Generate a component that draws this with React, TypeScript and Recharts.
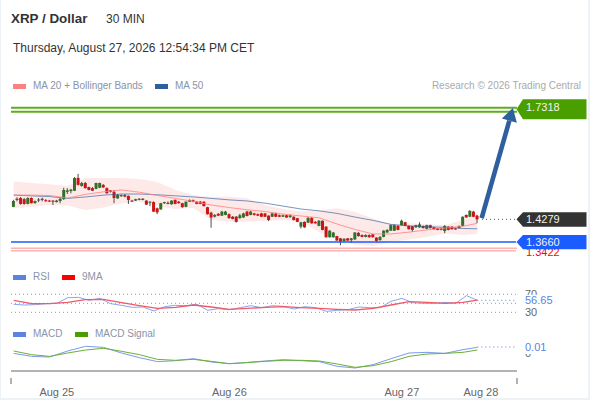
import { Area, Bar, ComposedChart, Line, ReferenceLine, XAxis, YAxis } from 'recharts'

const FONT = '"Liberation Sans", Arial, sans-serif'

// price candles, 30 min bars
const opens = [
  1.462, 1.484, 1.486, 1.483, 1.470, 1.486, 1.472, 1.480, 1.484, 1.480,
  1.479, 1.479, 1.475, 1.478, 1.483, 1.503, 1.505, 1.506, 1.541, 1.519,
  1.527, 1.516, 1.513, 1.511, 1.514, 1.522, 1.513, 1.507, 1.503, 1.485,
  1.491, 1.494, 1.492, 1.479, 1.479, 1.481, 1.484, 1.479, 1.474, 1.475,
  1.458, 1.455, 1.472, 1.473, 1.469, 1.481, 1.476, 1.472, 1.462, 1.476,
  1.480, 1.476, 1.476, 1.476, 1.461, 1.446, 1.435, 1.443, 1.438, 1.440,
  1.442, 1.435, 1.435, 1.431, 1.433, 1.449, 1.440, 1.444, 1.442, 1.444,
  1.444, 1.438, 1.435, 1.444, 1.439, 1.435, 1.439, 1.434, 1.435, 1.431,
  1.408, 1.421, 1.419, 1.432, 1.421, 1.410, 1.424, 1.408, 1.379, 1.379,
  1.382, 1.376, 1.368, 1.376, 1.371, 1.373, 1.391, 1.385, 1.380, 1.385,
  1.387, 1.378, 1.371, 1.380, 1.392, 1.397, 1.397, 1.410, 1.412, 1.420,
  1.410, 1.409, 1.406, 1.406, 1.410, 1.402, 1.412, 1.406, 1.403, 1.399,
  1.396, 1.408, 1.408, 1.403, 1.404, 1.410, 1.440, 1.435, 1.449, 1.438,
]
const closes = [
  1.478, 1.481, 1.470, 1.470, 1.486, 1.472, 1.478, 1.482, 1.481, 1.478,
  1.478, 1.476, 1.479, 1.484, 1.508, 1.507, 1.509, 1.541, 1.522, 1.527,
  1.513, 1.508, 1.506, 1.527, 1.527, 1.515, 1.499, 1.503, 1.486, 1.495,
  1.494, 1.490, 1.481, 1.478, 1.483, 1.484, 1.481, 1.468, 1.476, 1.449,
  1.447, 1.472, 1.475, 1.470, 1.479, 1.470, 1.472, 1.461, 1.476, 1.481,
  1.476, 1.470, 1.470, 1.464, 1.442, 1.433, 1.440, 1.438, 1.449, 1.449,
  1.431, 1.429, 1.421, 1.439, 1.444, 1.437, 1.449, 1.440, 1.438, 1.435,
  1.435, 1.426, 1.444, 1.435, 1.435, 1.439, 1.433, 1.439, 1.426, 1.421,
  1.420, 1.406, 1.432, 1.417, 1.417, 1.424, 1.399, 1.379, 1.397, 1.392,
  1.370, 1.367, 1.375, 1.370, 1.376, 1.392, 1.382, 1.380, 1.385, 1.379,
  1.379, 1.369, 1.380, 1.397, 1.399, 1.412, 1.412, 1.399, 1.424, 1.410,
  1.401, 1.399, 1.412, 1.414, 1.404, 1.412, 1.404, 1.401, 1.399, 1.403,
  1.410, 1.399, 1.401, 1.401, 1.410, 1.435, 1.433, 1.451, 1.435, 1.4279,
]
const highs = [
  1.481, 1.488, 1.489, 1.486, 1.488, 1.488, 1.479, 1.486, 1.487, 1.483,
  1.481, 1.480, 1.481, 1.487, 1.514, 1.513, 1.511, 1.543, 1.552, 1.530,
  1.530, 1.517, 1.516, 1.528, 1.528, 1.524, 1.515, 1.508, 1.508, 1.497,
  1.496, 1.497, 1.493, 1.481, 1.484, 1.486, 1.486, 1.480, 1.477, 1.477,
  1.460, 1.473, 1.476, 1.477, 1.480, 1.482, 1.478, 1.473, 1.477, 1.482,
  1.482, 1.477, 1.478, 1.477, 1.462, 1.449, 1.442, 1.445, 1.451, 1.451,
  1.444, 1.437, 1.437, 1.443, 1.446, 1.451, 1.451, 1.446, 1.444, 1.446,
  1.445, 1.439, 1.446, 1.446, 1.441, 1.441, 1.441, 1.441, 1.436, 1.432,
  1.421, 1.422, 1.434, 1.434, 1.423, 1.426, 1.425, 1.409, 1.398, 1.393,
  1.383, 1.377, 1.376, 1.377, 1.377, 1.393, 1.393, 1.387, 1.387, 1.387,
  1.388, 1.379, 1.382, 1.398, 1.401, 1.414, 1.414, 1.412, 1.427, 1.421,
  1.411, 1.410, 1.413, 1.420, 1.411, 1.413, 1.413, 1.407, 1.404, 1.405,
  1.412, 1.409, 1.409, 1.405, 1.411, 1.436, 1.441, 1.453, 1.451, 1.440,
]
const lows = [
  1.461, 1.477, 1.468, 1.468, 1.469, 1.471, 1.471, 1.475, 1.477, 1.476,
  1.476, 1.467, 1.474, 1.472, 1.481, 1.497, 1.499, 1.505, 1.520, 1.517,
  1.512, 1.507, 1.505, 1.510, 1.513, 1.514, 1.498, 1.501, 1.472, 1.484,
  1.489, 1.488, 1.470, 1.476, 1.478, 1.480, 1.480, 1.467, 1.464, 1.448,
  1.442, 1.454, 1.470, 1.469, 1.468, 1.469, 1.471, 1.460, 1.461, 1.475,
  1.475, 1.469, 1.469, 1.463, 1.441, 1.405, 1.433, 1.437, 1.437, 1.439,
  1.430, 1.428, 1.419, 1.430, 1.432, 1.436, 1.439, 1.438, 1.437, 1.434,
  1.434, 1.423, 1.434, 1.434, 1.434, 1.434, 1.432, 1.432, 1.425, 1.420,
  1.403, 1.405, 1.418, 1.416, 1.416, 1.409, 1.398, 1.378, 1.378, 1.378,
  1.369, 1.357, 1.367, 1.369, 1.364, 1.372, 1.381, 1.379, 1.379, 1.378,
  1.378, 1.365, 1.370, 1.379, 1.391, 1.396, 1.396, 1.398, 1.411, 1.409,
  1.400, 1.394, 1.405, 1.405, 1.403, 1.401, 1.403, 1.400, 1.398, 1.398,
  1.390, 1.398, 1.400, 1.400, 1.403, 1.409, 1.432, 1.434, 1.434, 1.418,
]

const sampleBars = [0, 5, 10, 15, 20, 25, 30, 35, 40, 45, 50, 55, 60, 65, 70, 75, 80, 85, 90, 95, 100, 105, 110, 115, 120, 125, 129]
const ma50 = [1.494, 1.492, 1.490, 1.485, 1.489, 1.494, 1.497, 1.497, 1.495, 1.492, 1.489, 1.485, 1.481, 1.478, 1.472, 1.464, 1.456, 1.451, 1.444, 1.434, 1.425, 1.414, 1.410, 1.408, 1.406, 1.403, 1.402]
const ma20 = [1.494, 1.494, 1.493, 1.486, 1.496, 1.503, 1.508, 1.502, 1.493, 1.485, 1.477, 1.467, 1.460, 1.454, 1.449, 1.442, 1.437, 1.432, 1.415, 1.400, 1.388, 1.388, 1.393, 1.399, 1.404, 1.409, 1.417]
const bandUpper = [1.531, 1.527, 1.524, 1.519, 1.541, 1.541, 1.541, 1.538, 1.530, 1.508, 1.494, 1.489, 1.490, 1.485, 1.467, 1.456, 1.449, 1.453, 1.458, 1.448, 1.430, 1.415, 1.417, 1.415, 1.412, 1.426, 1.444]
const bandLower = [1.458, 1.462, 1.467, 1.466, 1.453, 1.460, 1.472, 1.476, 1.464, 1.456, 1.459, 1.426, 1.421, 1.421, 1.423, 1.426, 1.421, 1.393, 1.373, 1.359, 1.355, 1.366, 1.373, 1.380, 1.389, 1.385, 1.388]

// RSI read every third bar
const rsi = [47.7, 46.2, 47, 49.2, 49.9, 62.5, 63.3, 56.6, 61, 49.2, 45.5, 41, 41.8, 32.9, 42.5, 45.5, 44.7, 47.7, 34.4, 38.1, 35.8, 40.3, 44.7, 40.3, 44.7, 43.3, 37.3, 42.5, 40.3, 32.1, 34.4, 35.8, 41.8, 40.3, 40.3, 54.4, 61, 51.4, 49.9, 49.9, 52.1, 49.9, 67, 56.65]
const rsiMa = [56.6, 49.2, 49.2, 52.1, 58, 58.8, 51.4, 44.7, 38.8, 41, 46.2, 41.8, 36.6, 38.8, 41, 42.5, 40.3, 38.8, 36.6, 35.1, 38.8, 46.2, 53.6, 52.1, 49.9, 52.1, 57.3]

const macd = [-0.0006, -0.0056, -0.0067, 0.0033, 0.0111, 0.0094, 0, -0.0078, -0.0144, -0.0128, -0.0094, -0.015, -0.0178, -0.0156, -0.0133, -0.0111, -0.0128, -0.0144, -0.0222, -0.025, -0.0194, -0.0094, 0, 0.0011, -0.0006, 0.0056, 0.0094]
const macdSignal = [0.0033, -0.0028, -0.0056, 0, 0.005, 0.0078, 0.0028, -0.0028, -0.0106, -0.0122, -0.0106, -0.0139, -0.0178, -0.0161, -0.0139, -0.0122, -0.0122, -0.0133, -0.0183, -0.0239, -0.0211, -0.0144, -0.0056, -0.0017, -0.0006, 0.0011, 0.005]

const dayTicks = [12, 60, 108, 130]
const dayLabels = ['Aug 25', 'Aug 26', 'Aug 27', 'Aug 28']

const X_DOMAIN: [number, number] = [-0.75, 140.04]
const MACD_DOMAIN: [number, number] = [-0.03, 0.02167]
const GREEN_BAND = [1.7326, 1.7214]
const PINK_BAND = [1.3488, 1.3422]

const priceRows = opens.map((open, i) => {
  const s = sampleBars.indexOf(i)
  return {
    i,
    open,
    close: closes[i],
    range: [lows[i], highs[i]],
    ma50: s >= 0 ? ma50[s] : null,
    ma20: s >= 0 ? ma20[s] : null,
    band: s >= 0 ? [bandLower[s], bandUpper[s]] : null,
  }
})

const rsiRows = opens.map((_, i) => {
  const s = sampleBars.indexOf(i)
  return {
    i,
    rsi: i % 3 === 0 ? rsi[i / 3] : null,
    ma: s >= 0 ? rsiMa[s] : null,
  }
})

const macdRows = sampleBars.map((i, s) => ({ i, macd: macd[s], signal: macdSignal[s] }))

function Candle(props: any) {
  const { x, y, width, height, payload } = props
  const [low, high] = payload.range
  const perUnit = height / (high - low)
  const top = y + (high - Math.max(payload.open, payload.close)) * perUnit
  const bodyH = Math.max(1, Math.abs(payload.open - payload.close) * perUnit)
  const up = payload.close >= payload.open
  const cx = x + width / 2
  return (
    <g>
      <line x1={cx} x2={cx} y1={y} y2={y + height} stroke="#3a3a3a" strokeWidth={0.9} />
      <rect x={x} y={top} width={width} height={bodyH} fill={up ? '#32702a' : '#cc1414'} />
    </g>
  )
}

// horizontal level with a flag at the right end of the plot
function priceTag(text: string, fill: string, offsets: number[], textDy: number) {
  const [up, down, tip] = offsets
  return (p: any) => {
    const right = 586.5
    const left = 523
    const y = p.y1
    return (
      <g>
        <line x1={p.x1} x2={p.x2 - 1} y1={y} y2={y} stroke={p.stroke} strokeWidth={p.strokeWidth} strokeDasharray={p.strokeDasharray} />
        <polygon
          points={`${left - 6.5},${y + tip} ${left},${y - up} ${right},${y - up} ${right},${y + down} ${left},${y + down}`}
          fill={fill}
        />
        <text x={526} y={y + textDy} fontSize={11} fontFamily={FONT} fill="#f2f2ea" dominantBaseline="central">
          {text}
        </text>
      </g>
    )
  }
}

function ArrowShape(p: any) {
  const { x1, y1, x2, y2 } = p
  const len = Math.hypot(x2 - x1, y2 - y1)
  const ux = (x2 - x1) / len
  const uy = (y2 - y1) / len
  const baseX = x2 - ux * 13
  const baseY = y2 - uy * 13
  const nx = -uy * 7.8
  const ny = ux * 7.8
  return (
    <g>
      <line x1={x1} y1={y1} x2={baseX} y2={baseY} stroke="#2e5f9e" strokeWidth={4.6} />
      <polygon points={`${x2},${y2} ${baseX + nx},${baseY + ny} ${baseX - nx},${baseY - ny}`} fill="#2e5f9e" />
    </g>
  )
}

// dotted level inside an indicator panel, optionally with an axis number
function levelShape(label?: string) {
  return (p: any) => (
    <g>
      <line x1={p.x1} x2={p.x2} y1={p.y1} y2={p.y1} stroke="#999" strokeWidth={1} strokeDasharray="1 3" />
      {label && (
        <text x={525} y={p.y1} fontSize={11} fontFamily={FONT} fill="#666" dominantBaseline="central">
          {label}
        </text>
      )}
    </g>
  )
}

// last value of an indicator: dotted lead, white backing, coloured number
function lastValueShape(text: string, maskUp: number, maskDown: number) {
  return (p: any) => (
    <g>
      <line x1={p.x1} x2={p.x2} y1={p.y1} y2={p.y1} stroke="#5b83e0" strokeWidth={1} strokeDasharray="1 3" />
      <rect x={520} y={p.y1 - maskUp} width={42} height={maskUp + maskDown} fill="#fff" />
      <text x={525} y={p.y1} fontSize={11} fontFamily={FONT} fill="#5b83e0" dominantBaseline="central">
        {text}
      </text>
    </g>
  )
}

function DayTick(props: any) {
  const { x, y, payload } = props
  const idx = dayTicks.indexOf(payload.value)
  if (idx < 0) {
    return <line x1={x} x2={x} y1={y - 1} y2={y + 5} stroke="#b3b3b3" strokeWidth={2} />
  }
  return (
    <text x={x} y={y + 13} textAnchor="middle" dominantBaseline="central" fontSize={11} fontFamily={FONT} fill="#666">
      {dayLabels[idx]}
    </text>
  )
}

const legendText = { position: 'absolute', fontSize: 10, color: '#8a93a8', whiteSpace: 'nowrap', lineHeight: '12px' } as const

function Swatch({ left, top, color }: { left: number; top: number; color: string }) {
  return <div style={{ position: 'absolute', left, top, width: 13, height: 4.5, background: color }} />
}

export default function App() {
  return (
    <div style={{ position: 'absolute', left: 0, top: 0, width: 590, height: 400, background: '#edf2f6', overflow: 'hidden', fontFamily: FONT }}>
      <div style={{ position: 'absolute', left: 1, top: 0, width: 587, height: 398, background: '#fff' }} />

      <div style={{ position: 'absolute', left: 11, top: 11, fontSize: 13.4, fontWeight: 700, color: '#333', lineHeight: '16px' }}>XRP / Dollar</div>
      <div style={{ position: 'absolute', left: 106, top: 11, fontSize: 12, color: '#333', lineHeight: '16px' }}>30 MIN</div>
      <div style={{ position: 'absolute', left: 13, top: 40, fontSize: 12, color: '#333', lineHeight: '16px' }}>Thursday, August 27, 2026 12:54:34 PM CET</div>

      <Swatch left={13} top={84} color="#ff8080" />
      <div style={{ ...legendText, left: 33, top: 80 }}>MA 20 + Bollinger Bands</div>
      <Swatch left={155} top={84} color="#2e5f9e" />
      <div style={{ ...legendText, left: 175, top: 80 }}>MA 50</div>
      <div style={{ position: 'absolute', right: 9, top: 80, fontSize: 10, color: '#aaa', lineHeight: '12px' }}>Research © 2026 Trading Central</div>

      <Swatch left={13} top={275} color="#5b83e0" />
      <div style={{ ...legendText, left: 33, top: 271 }}>RSI</div>
      <Swatch left={62} top={275} color="#f00" />
      <div style={{ ...legendText, left: 82, top: 271 }}>9MA</div>

      <Swatch left={13} top={332} color="#5b83e0" />
      <div style={{ ...legendText, left: 33, top: 328 }}>MACD</div>
      <Swatch left={75} top={332} color="#4a9e00" />
      <div style={{ ...legendText, left: 95, top: 328 }}>MACD Signal</div>

      <div style={{ position: 'absolute', left: 0, top: 95 }}>
        <ComposedChart width={590} height={165} data={priceRows} margin={{ top: 0, right: 73, bottom: 0, left: 11 }}>
          <XAxis dataKey="i" type="number" domain={X_DOMAIN} hide />
          <YAxis domain={[1.3169, 1.7673]} hide allowDataOverflow />
          <Area
            dataKey="band"
            stroke="none"
            fill="#fee9e9"
            fillOpacity={1}
            connectNulls
            dot={false}
            activeDot={false}
            isAnimationActive={false}
          />
          <Bar dataKey="range" barSize={3} shape={Candle} isAnimationActive={false} />
          <Line dataKey="ma50" stroke="#2e5f9e" strokeOpacity={0.65} strokeWidth={1} dot={false} activeDot={false} connectNulls isAnimationActive={false} />
          <Line dataKey="ma20" stroke="#ff8080" strokeOpacity={0.8} strokeWidth={1} dot={false} activeDot={false} connectNulls isAnimationActive={false} />

          <ReferenceLine y={GREEN_BAND[0]} stroke="#5cae1e" strokeWidth={2} />
          <ReferenceLine y={GREEN_BAND[1]} stroke="#5cae1e" strokeWidth={2} />
          <ReferenceLine y={1.7318} stroke="none" shape={priceTag('1.7318', '#4a9e00', [8.7, 11.3, 1.3], -1)} />

          <ReferenceLine y={PINK_BAND[0]} stroke="#f9b4b4" strokeWidth={1.5} />
          <ReferenceLine
            y={PINK_BAND[1]}
            stroke="#f9b4b4"
            strokeWidth={1.5}
            shape={(p: any) => (
              <g>
                <line x1={p.x1} x2={p.x2 - 1} y1={p.y1} y2={p.y1} stroke={p.stroke} strokeWidth={p.strokeWidth} />
                <text x={526} y={p.y1 + 1} fontSize={11} fontFamily={FONT} fill="#f00" dominantBaseline="central">
                  1.3422
                </text>
              </g>
            )}
          />
          <ReferenceLine y={1.366} stroke="#1a5cff" strokeWidth={1.5} shape={priceTag('1.3660', '#1a5cff', [7, 7.3, 0], 0)} />
          <ReferenceLine
            segment={[{ x: 130.3, y: 1.4279 }, { x: X_DOMAIN[1], y: 1.4279 }]}
            stroke="#555"
            strokeWidth={1}
            strokeDasharray="1 3"
            shape={priceTag('1.4279', '#333333', [7.2, 7.5, 0], 0)}
          />
          <ReferenceLine segment={[{ x: 130.2, y: 1.4315 }, { x: 138.9, y: 1.7318 }]} shape={ArrowShape} />
        </ComposedChart>
      </div>

      <div style={{ position: 'absolute', left: 0, top: 285 }}>
        <ComposedChart width={590} height={35} data={rsiRows} margin={{ top: 0, right: 73, bottom: 0, left: 11 }}>
          <XAxis dataKey="i" type="number" domain={X_DOMAIN} hide />
          <YAxis domain={[12.9, 90.67]} hide allowDataOverflow />
          <ReferenceLine y={70} shape={levelShape('70')} />
          <ReferenceLine y={50} shape={levelShape()} />
          <ReferenceLine y={30} shape={levelShape('30')} />
          <ReferenceLine
            segment={[{ x: 129, y: 56.65 }, { x: X_DOMAIN[1], y: 56.65 }]}
            shape={lastValueShape('56.65', 5.5, 7)}
          />
          <Line dataKey="rsi" stroke="#7d9aec" strokeWidth={0.9} dot={false} activeDot={false} connectNulls isAnimationActive={false} />
          <Line dataKey="ma" stroke="#ef5a66" strokeWidth={1.3} dot={false} activeDot={false} connectNulls isAnimationActive={false} />
        </ComposedChart>
      </div>

      <div style={{ position: 'absolute', left: 0, top: 340 }}>
        <ComposedChart width={590} height={60} data={macdRows} margin={{ top: 0, right: 73, bottom: 0, left: 11 }}>
          <XAxis
            dataKey="i"
            type="number"
            domain={X_DOMAIN}
            ticks={[X_DOMAIN[0], ...dayTicks, X_DOMAIN[1]]}
            interval={0}
            height={29}
            axisLine={false}
            tickLine={false}
            tick={DayTick}
          />
          <YAxis domain={MACD_DOMAIN} hide allowDataOverflow />
          <ReferenceLine y={MACD_DOMAIN[0]} stroke="#b3b3b3" strokeWidth={2} ifOverflow="visible" />
          <ReferenceLine y={0} stroke="none" shape={(p: any) => (
            <text x={525} y={p.y1} fontSize={11} fontFamily={FONT} fill="#666" dominantBaseline="central">0</text>
          )} />
          <ReferenceLine
            segment={[{ x: 129, y: 0.01 }, { x: X_DOMAIN[1], y: 0.01 }]}
            shape={lastValueShape('0.01', 6, 7)}
          />
          <Line dataKey="macd" stroke="#7d9aec" strokeWidth={1} dot={false} activeDot={false} isAnimationActive={false} />
          <Line dataKey="signal" stroke="#6cb033" strokeWidth={1} dot={false} activeDot={false} isAnimationActive={false} />
        </ComposedChart>
      </div>
    </div>
  )
}
